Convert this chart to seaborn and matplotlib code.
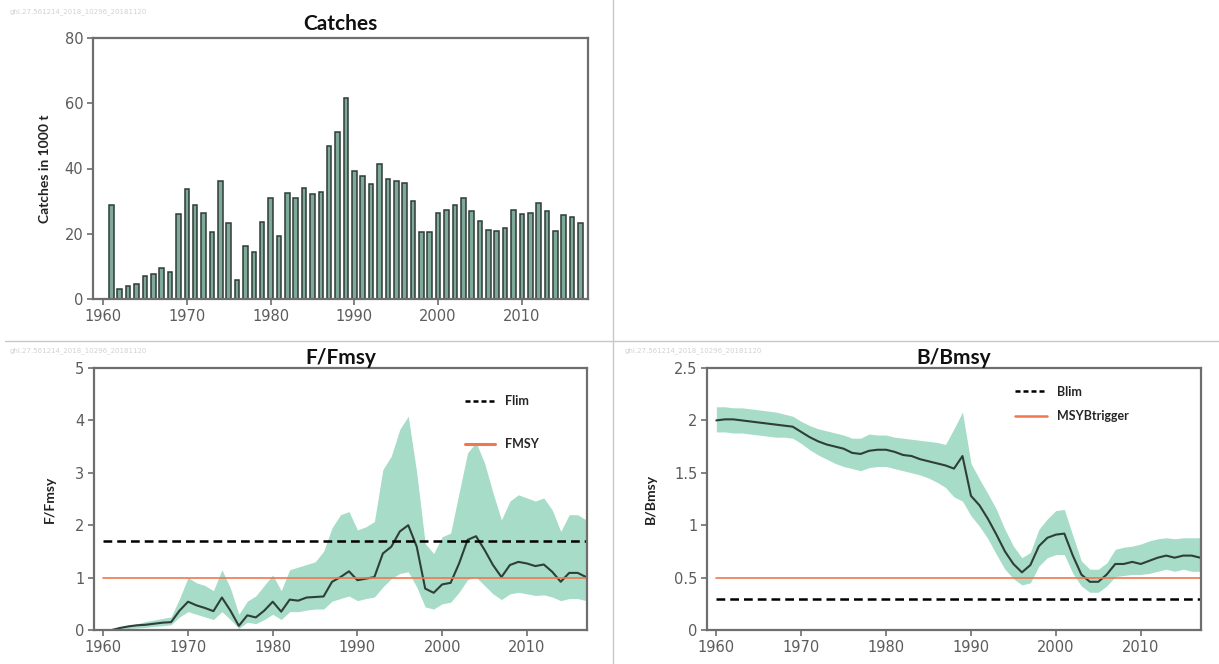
import numpy as np
import pandas as pd
import matplotlib
matplotlib.use("Agg")
import matplotlib.pyplot as plt
from matplotlib.lines import Line2D
import seaborn as sns

sns.set_theme(style="white")
plt.rcParams["font.family"] = ["DejaVu Sans"]

# ---- data -------------------------------------------------------------
catch_years = list(range(1961, 2018))
catches = [28.7, 3.1, 4.1, 4.7, 7.0, 7.8, 9.4, 8.2, 26.2, 33.6,
           28.9, 26.5, 20.5, 36.1, 23.2, 5.9, 16.3, 14.4, 23.7, 30.9,
           19.3, 32.5, 30.9, 33.9, 32.2, 32.8, 46.8, 51.1, 61.6, 39.3,
           37.7, 35.4, 41.4, 36.8, 36.2, 35.7, 30.1, 20.4, 20.4, 26.5,
           27.3, 28.8, 30.9, 26.9, 24.0, 21.1, 20.8, 21.9, 27.3, 26.2,
           26.4, 29.3, 26.9, 20.9, 25.6, 25.1, 23.3]

f_years = list(range(1961, 2018))
f_ratio = [0.00, 0.04, 0.07, 0.09, 0.10, 0.12, 0.14, 0.15, 0.37, 0.54,
           0.47, 0.42, 0.36, 0.62, 0.37, 0.08, 0.28, 0.24, 0.37, 0.54,
           0.35, 0.58, 0.56, 0.62, 0.63, 0.64, 0.92, 1.01, 1.12, 0.95,
           0.98, 1.01, 1.46, 1.59, 1.88, 2.00, 1.59, 0.79, 0.71, 0.87,
           0.90, 1.27, 1.72, 1.79, 1.53, 1.24, 1.01, 1.24, 1.30, 1.27,
           1.22, 1.25, 1.11, 0.92, 1.09, 1.09, 1.01]
f_upper = [0.02, 0.06, 0.09, 0.12, 0.16, 0.19, 0.22, 0.25, 0.60, 1.00,
           0.90, 0.85, 0.75, 1.15, 0.80, 0.30, 0.55, 0.65, 0.85, 1.05,
           0.75, 1.15, 1.20, 1.25, 1.30, 1.50, 1.95, 2.20, 2.26, 1.91,
           1.97, 2.07, 3.06, 3.32, 3.83, 4.08, 3.00, 1.65, 1.46, 1.78,
           1.85, 2.62, 3.38, 3.58, 3.19, 2.62, 2.10, 2.46, 2.58, 2.52,
           2.46, 2.52, 2.29, 1.88, 2.20, 2.20, 2.10]
f_lower = [0.00, 0.02, 0.03, 0.04, 0.05, 0.07, 0.08, 0.10, 0.25, 0.35,
           0.30, 0.25, 0.20, 0.35, 0.20, 0.03, 0.15, 0.12, 0.20, 0.30,
           0.20, 0.35, 0.35, 0.38, 0.40, 0.40, 0.55, 0.60, 0.65, 0.56,
           0.60, 0.63, 0.82, 0.98, 1.08, 1.11, 0.82, 0.44, 0.40, 0.50,
           0.53, 0.72, 0.96, 1.01, 0.85, 0.69, 0.58, 0.69, 0.72, 0.69,
           0.66, 0.67, 0.63, 0.56, 0.60, 0.60, 0.56]
f_lim = 1.7
f_msy = 1.0

b_years = list(range(1960, 2018))
b_ratio = [2.00, 2.01, 2.01, 2.00, 1.99, 1.98, 1.97, 1.96, 1.95, 1.94,
           1.89, 1.84, 1.80, 1.77, 1.75, 1.73, 1.69, 1.68, 1.71, 1.72,
           1.72, 1.70, 1.67, 1.66, 1.63, 1.61, 1.59, 1.57, 1.54, 1.66,
           1.28, 1.19, 1.06, 0.91, 0.75, 0.63, 0.55, 0.62, 0.80, 0.88,
           0.91, 0.92, 0.71, 0.53, 0.46, 0.46, 0.53, 0.63, 0.63, 0.65,
           0.63, 0.66, 0.69, 0.71, 0.69, 0.71, 0.71, 0.69]
b_upper = [2.13, 2.13, 2.12, 2.12, 2.11, 2.10, 2.09, 2.08, 2.06, 2.04,
           1.99, 1.95, 1.92, 1.90, 1.88, 1.86, 1.83, 1.83, 1.87, 1.86,
           1.86, 1.84, 1.83, 1.82, 1.81, 1.80, 1.79, 1.77, 1.92, 2.08,
           1.59, 1.44, 1.30, 1.15, 0.96, 0.80, 0.69, 0.74, 0.96, 1.06,
           1.14, 1.15, 0.90, 0.66, 0.58, 0.58, 0.64, 0.77, 0.79, 0.80,
           0.82, 0.85, 0.87, 0.88, 0.87, 0.88, 0.88, 0.88]
b_lower = [1.89, 1.89, 1.88, 1.88, 1.87, 1.86, 1.85, 1.84, 1.84, 1.83,
           1.78, 1.72, 1.67, 1.63, 1.59, 1.56, 1.54, 1.52, 1.55, 1.56,
           1.56, 1.54, 1.52, 1.50, 1.48, 1.45, 1.41, 1.36, 1.27, 1.23,
           1.09, 0.99, 0.87, 0.72, 0.58, 0.49, 0.43, 0.45, 0.61, 0.69,
           0.72, 0.72, 0.54, 0.42, 0.36, 0.36, 0.42, 0.51, 0.52, 0.53,
           0.53, 0.54, 0.56, 0.58, 0.56, 0.58, 0.56, 0.56]
b_lim = 0.3
msy_btrigger = 0.5

decade_ticks = [1960, 1970, 1980, 1990, 2000, 2010]
stock_code = "ghl.27.561214_2018_10296_20181120"

# ---- styling ------------------------------------------------------------
BAR_FILL = "#7faa9a"
BAR_EDGE = "#2e3b36"
BAND = "#a6dcc8"
LINE = "#2f3e38"
REF_RED = "#f07850"
SPINE = "#6e6e6e"
TICK_TXT = "#5c5c5c"
LABEL_FONT = ["Lato", "DejaVu Sans"]


def style_axes(ax):
    for s in ax.spines.values():
        s.set_visible(True)
        s.set_color(SPINE)
        s.set_linewidth(1.6)
    ax.tick_params(axis="both", which="both", direction="out", length=4,
                   width=1.2, color=SPINE, labelcolor=TICK_TXT,
                   labelsize=10.5, bottom=True, left=True, top=False,
                   right=False, pad=3)
    ax.grid(False)
    ax.set_xticks(decade_ticks)
    ax.set_xticklabels([str(t) for t in decade_ticks])


fig = plt.figure(figsize=(12.19, 6.64), dpi=100)
fig.patch.set_facecolor("white")

# panel separators and run identifiers
fig.add_artist(Line2D([5 / 1219, 1.0], [1 - 341 / 664, 1 - 341 / 664],
                      color="#c8c8c8", lw=1.0))
fig.add_artist(Line2D([613 / 1219, 613 / 1219], [0.0, 1.0],
                      color="#c8c8c8", lw=1.0))
for (px, py) in [(10, 12), (10, 351), (625, 351)]:
    fig.text(px / 1219, 1 - py / 664, stock_code, fontsize=5,
             color="#d2d2d2", va="center", ha="left")

# ---- catches ------------------------------------------------------------
ax1 = fig.add_axes([93 / 1219, 1 - 299 / 664, 495 / 1219, 261 / 664])
catch_df = pd.DataFrame({"year": catch_years, "catch": catches})
sns.barplot(data=catch_df, x="year", y="catch", native_scale=True,
            color=BAR_FILL, edgecolor=BAR_EDGE, linewidth=1.1,
            width=0.55, saturation=1, ax=ax1)
ax1.set_xlim(1958.8, 2017.9)
ax1.set_ylim(0, 80)
ax1.set_yticks([0, 20, 40, 60, 80])
style_axes(ax1)
ax1.set_xlabel("")
ax1.set_ylabel("Catches in 1000 t", fontsize=10, fontweight="bold",
               family=LABEL_FONT, color="#222222", labelpad=10)
ax1.set_title("Catches", fontsize=15, fontweight="bold", family=LABEL_FONT,
              color="#111111", pad=6)

# ---- F / Fmsy -----------------------------------------------------------
ax2 = fig.add_axes([94 / 1219, 1 - 630 / 664, 493 / 1219, 262 / 664])
ax2.fill_between(f_years, f_lower, f_upper, color=BAND, lw=0)
f_df = pd.DataFrame({"year": f_years, "F": f_ratio})
sns.lineplot(data=f_df, x="year", y="F", color=LINE, lw=1.5, ax=ax2)
ax2.axhline(f_lim, xmin=0.018, xmax=1.0, color="black", ls=(0, (3.5, 2)),
            lw=1.8)
ax2.axhline(f_msy, xmin=0.018, xmax=1.0, color=REF_RED, lw=1.2)
ax2.set_xlim(1958.9, 2017.1)
ax2.set_ylim(0, 5)
ax2.set_yticks([0, 1, 2, 3, 4, 5])
style_axes(ax2)
ax2.set_xlabel("")
ax2.set_ylabel("F/Fmsy", fontsize=10, fontweight="bold", family=LABEL_FONT,
               color="#222222", labelpad=14)
ax2.set_title("F/Fmsy", fontsize=15, fontweight="bold", family=LABEL_FONT,
              color="#111111", pad=3)
f_handles = [Line2D([], [], color="black", ls=(0, (2, 1.2)), lw=1.8),
             Line2D([], [], color=REF_RED, lw=2.2)]
ax2.legend(f_handles, ["Flim", "FMSY"], loc="upper left",
           bbox_to_anchor=(0.73, 0.94), frameon=False, handlelength=2.4,
           labelspacing=2.5, prop={"family": LABEL_FONT, "weight": "bold",
                                    "size": 9})

# ---- B / Bmsy -----------------------------------------------------------
ax3 = fig.add_axes([707 / 1219, 1 - 630 / 664, 494 / 1219, 262 / 664])
ax3.fill_between(b_years, b_lower, b_upper, color=BAND, lw=0)
b_df = pd.DataFrame({"year": b_years, "B": b_ratio})
sns.lineplot(data=b_df, x="year", y="B", color=LINE, lw=1.5, ax=ax3)
ax3.axhline(b_lim, xmin=0.018, xmax=1.0, color="black", ls=(0, (3.5, 2)),
            lw=1.8)
ax3.axhline(msy_btrigger, xmin=0.018, xmax=1.0, color=REF_RED, lw=1.2)
ax3.set_xlim(1958.9, 2017.1)
ax3.set_ylim(0, 2.5)
ax3.set_yticks([0, 0.5, 1, 1.5, 2, 2.5])
ax3.set_yticklabels(["0", "0.5", "1", "1.5", "2", "2.5"])
style_axes(ax3)
ax3.set_xlabel("")
ax3.set_ylabel("B/Bmsy", fontsize=10, fontweight="bold", family=LABEL_FONT,
               color="#222222", labelpad=12)
ax3.set_title("B/Bmsy", fontsize=15, fontweight="bold", family=LABEL_FONT,
              color="#111111", pad=3)
b_handles = [Line2D([], [], color="black", ls=(0, (2, 1.2)), lw=1.8),
             Line2D([], [], color=REF_RED, lw=1.8)]
ax3.legend(b_handles, ["Blim", "MSYBtrigger"], loc="upper left",
           bbox_to_anchor=(0.6, 0.975), frameon=False, handlelength=2.6,
           labelspacing=1.0, prop={"family": LABEL_FONT, "weight": "bold",
                                    "size": 9})

fig.savefig("out.png", dpi=100, facecolor="white")
